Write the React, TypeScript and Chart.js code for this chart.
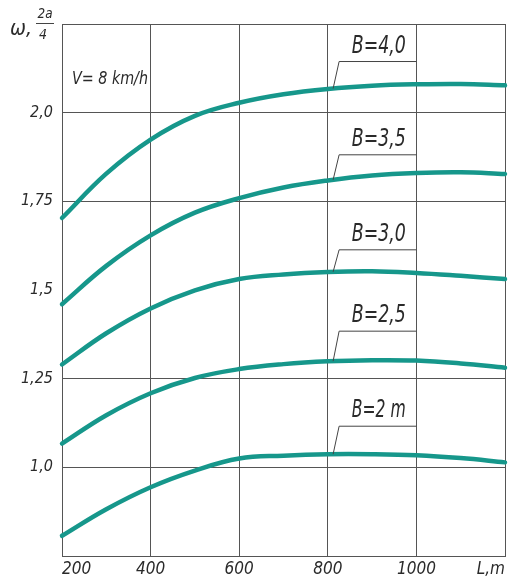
import React, { useEffect, useRef } from "react";
import { Chart, registerables } from "chart.js";

Chart.register(...registerables);

// Distance L, m
const lengths = [200, 300, 400, 500, 600, 700, 800, 900, 1000, 1100, 1200];
// ω values for each road width B
const omegaB40 = [1.703, 1.828, 1.924, 1.991, 2.028, 2.052, 2.067, 2.076, 2.08, 2.081, 2.077];
const omegaB35 = [1.46, 1.568, 1.654, 1.718, 1.759, 1.789, 1.809, 1.823, 1.83, 1.832, 1.827];
const omegaB30 = [1.29, 1.378, 1.448, 1.499, 1.531, 1.544, 1.551, 1.553, 1.548, 1.54, 1.531];
const omegaB25 = [1.067, 1.147, 1.209, 1.252, 1.277, 1.291, 1.299, 1.302, 1.301, 1.293, 1.281];
const omegaB20 = [0.807, 0.882, 0.944, 0.991, 1.025, 1.033, 1.037, 1.037, 1.034, 1.026, 1.014];

const seriesValues = [omegaB40, omegaB35, omegaB30, omegaB25, omegaB20];
const seriesNames = ["B=4,0", "B=3,5", "B=3,0", "B=2,5", "B=2 m"];

const xTickValues = [200, 400, 600, 800, 1000, 1200];
const xTickLabels = ["200", "400", "600", "800", "1000", "L,m"];
const yTickValues = [1.0, 1.25, 1.5, 1.75, 2.0];
const yTickLabels = ["1,0", "1,25", "1,5", "1,75", "2,0"];
const yGridHidden = [1.5];

const speedNote = "V= 8 km/h";

const FONT = "'Liberation Sans Narrow', 'DejaVu Sans Condensed', 'Liberation Sans', sans-serif";
const TEAL = "#16978b";
const INK = "#2a2a2a";
const GRID = "#555555";

// leader geometry for labels (foot L position on the curve, rise in px)
const leaderFootL = 812;
const leaderEndL = 1000;
const leaderRise = [27, 25, 22, 30, 28];

function interp(values: number[], xv: number): number {
  for (let i = 0; i < lengths.length - 1; i++) {
    if (xv >= lengths[i] && xv <= lengths[i + 1]) {
      const t = (xv - lengths[i]) / (lengths[i + 1] - lengths[i]);
      return values[i] + t * (values[i + 1] - values[i]);
    }
  }
  return values[values.length - 1];
}

function drawFitText(ctx: CanvasRenderingContext2D, text: string, cx: number, baseline: number, font: string, targetW: number) {
  ctx.save();
  ctx.font = font;
  const w = ctx.measureText(text).width;
  const sx = Math.min(1, targetW / w);
  ctx.translate(cx, baseline);
  ctx.scale(sx, 1);
  ctx.textAlign = "center";
  ctx.textBaseline = "alphabetic";
  ctx.fillText(text, 0, 0);
  ctx.restore();
}

const annotationPlugin = {
  id: "annotations",
  afterDatasetsDraw(chart: any) {
    const { ctx, scales } = chart;
    const x = scales.x;
    const y = scales.y;
    ctx.save();
    ctx.fillStyle = INK;
    ctx.strokeStyle = "#444";
    ctx.lineWidth = 1;
    seriesValues.forEach((vals, i) => {
      const fx = x.getPixelForValue(leaderFootL);
      const fy = y.getPixelForValue(interp(vals, leaderFootL));
      const kx = fx + 6;
      const ky = fy - leaderRise[i];
      const ex = x.getPixelForValue(leaderEndL);
      ctx.beginPath();
      ctx.moveTo(fx, fy);
      ctx.lineTo(kx, ky);
      ctx.lineTo(ex, ky);
      ctx.stroke();
      const cx = (kx + ex) / 2 + 1;
      drawFitText(ctx, seriesNames[i], cx, ky - 9, "italic 25px " + FONT, 54);
    });
    // speed note
    drawFitText(ctx, speedNote, 110, 84, "italic 17px " + FONT, 76);
    // axis title omega, 2a/4
    drawFitText(ctx, "ω,", 21, 35, "italic 22px " + FONT, 22);
    drawFitText(ctx, "2a", 45, 18, "italic 14px " + FONT, 15);
    ctx.beginPath();
    ctx.moveTo(36, 23.5);
    ctx.lineTo(54, 23.5);
    ctx.stroke();
    drawFitText(ctx, "4", 43, 39, "italic 14px " + FONT, 9);
    ctx.restore();
  },
};

export default function App() {
  const ref = useRef<HTMLCanvasElement | null>(null);
  useEffect(() => {
    if (!ref.current) return;
    const datasets = seriesValues.map((vals, i) => ({
      label: seriesNames[i],
      data: lengths.map((l, j) => ({ x: l, y: vals[j] })),
      borderColor: TEAL,
      backgroundColor: TEAL,
      borderWidth: 4.5,
      pointRadius: 0,
      tension: 0.4,
      borderCapStyle: "round" as const,
      clip: false as any,
    }));
    const chart = new Chart(ref.current, {
      type: "line",
      data: { datasets },
      options: {
        animation: false,
        responsive: true,
        maintainAspectRatio: false,
        layout: { padding: { top: 24, right: 6, left: 0, bottom: 0 } },
        plugins: { legend: { display: false }, tooltip: { enabled: false } },
        scales: {
          x: {
            type: "linear",
            min: 200,
            max: 1200,
            afterBuildTicks: (s: any) => {
              s.ticks = xTickValues.map((v) => ({ value: v }));
            },
            afterFit: (s: any) => {
              s.height = 21;
            },
            grid: { color: GRID, lineWidth: 1, drawTicks: false },
            border: { color: GRID, width: 1 },
            ticks: {
              align: "inner",
              padding: 3,
              color: INK,
              maxRotation: 0,
              autoSkip: false,
              font: { family: FONT, size: 17, style: "italic" },
              callback: (v: any) => {
                const idx = xTickValues.indexOf(Number(v));
                return idx >= 0 ? xTickLabels[idx] : "";
              },
            },
          },
          y: {
            type: "linear",
            min: 0.75,
            max: 2.25,
            afterBuildTicks: (s: any) => {
              s.ticks = [0.75, ...yTickValues, 2.25].map((v) => ({ value: v }));
            },
            afterFit: (s: any) => {
              s.width = 62;
            },
            grid: {
              color: (c: any) =>
                yGridHidden.some((h) => Math.abs(h - c.tick.value) < 1e-6) ? "rgba(0,0,0,0)" : GRID,
              lineWidth: 1,
              drawTicks: false,
            },
            border: { color: GRID, width: 1 },
            ticks: {
              padding: 9,
              color: INK,
              autoSkip: false,
              font: { family: FONT, size: 16, style: "italic" },
              callback: (v: any) => {
                const idx = yTickValues.findIndex((t) => Math.abs(t - Number(v)) < 1e-6);
                return idx >= 0 ? yTickLabels[idx] : "";
              },
            },
          },
        },
      },
      plugins: [annotationPlugin],
    });
    return () => chart.destroy();
  }, []);
  return (
    <div style={{ position: "absolute", left: 0, top: 0, width: 511, height: 577, background: "#fff" }}>
      <canvas ref={ref} />
    </div>
  );
}
